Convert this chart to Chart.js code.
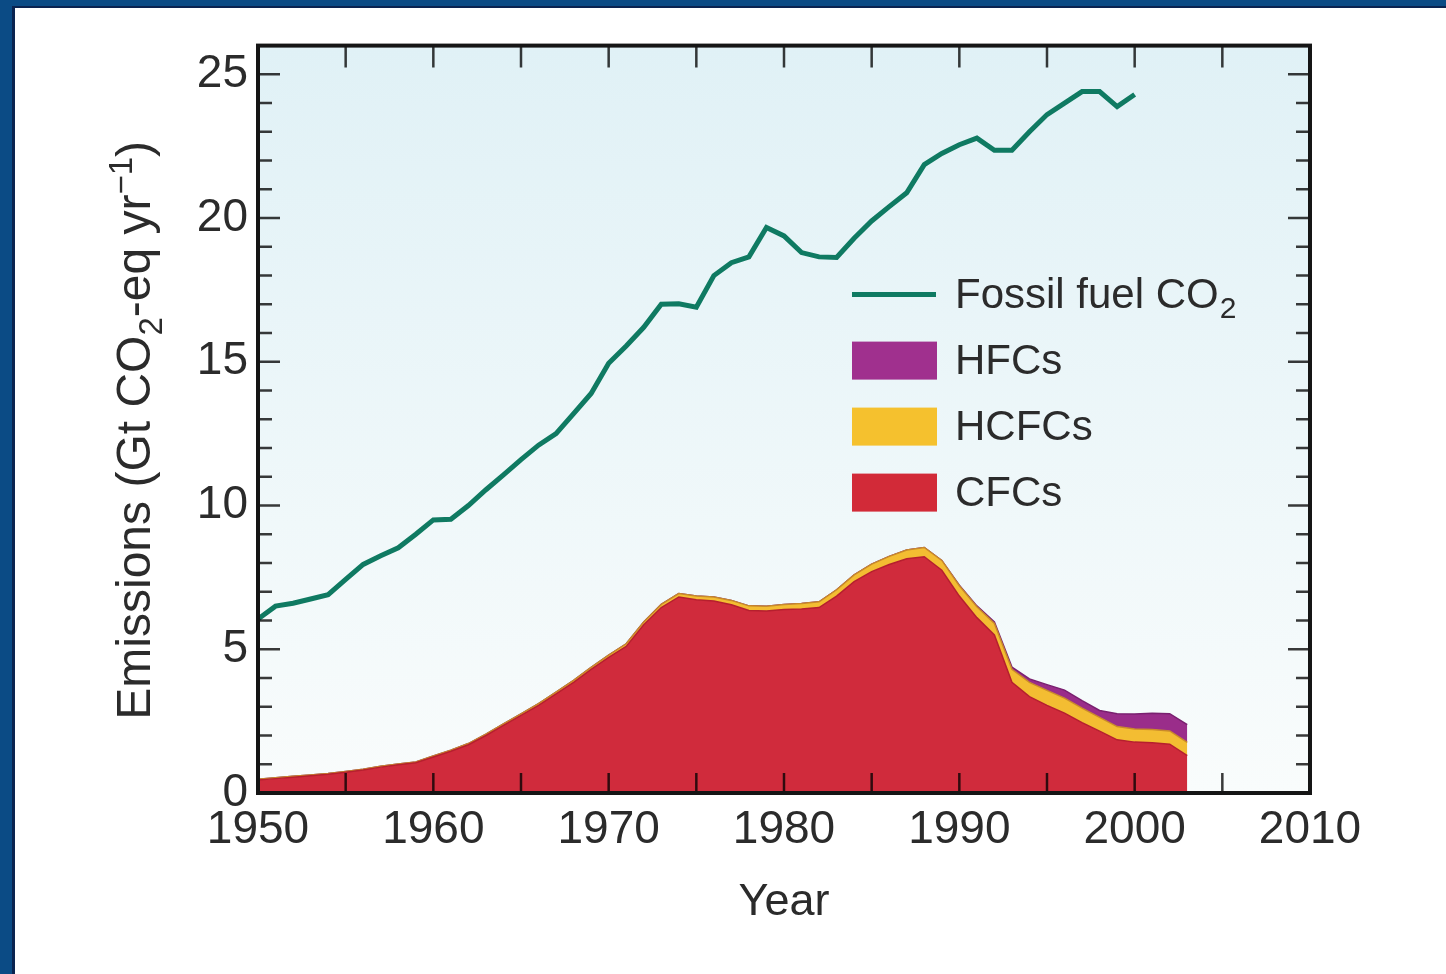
<!DOCTYPE html>
<html>
<head>
<meta charset="utf-8">
<title>Fossil fuel CO2 and halocarbon emissions</title>
<script src="https://cdn.jsdelivr.net/npm/chart.js@4.4.1/dist/chart.umd.min.js"></script>
<style>
  html, body { margin: 0; padding: 0; background: #ffffff; }
  #frame {
    position: absolute; left: 0; top: 0;
    width: 1434px; height: 968px;
    border-left: 12px solid #0b4b85;
    border-top: 6px solid #0b4b85;
  }
  #inner {
    width: 1431px; height: 966px;
    border-left: 3px solid #0a2350;
    border-top: 2px solid #0a2350;
    background: #ffffff;
  }
  canvas { display: block; }
</style>
</head>
<body>
<div id="frame"><div id="inner"><canvas id="emissionsChart" width="1431" height="966"></canvas></div></div>
<script>
// values (GtCO2-eq per year)
const years = [
  1950, 1951, 1952, 1953, 1954, 1955, 1956, 1957, 1958, 1959,
  1960, 1961, 1962, 1963, 1964, 1965, 1966, 1967, 1968, 1969,
  1970, 1971, 1972, 1973, 1974, 1975, 1976, 1977, 1978, 1979,
  1980, 1981, 1982, 1983, 1984, 1985, 1986, 1987, 1988, 1989,
  1990, 1991, 1992, 1993, 1994, 1995, 1996, 1997, 1998, 1999,
  2000, 2001, 2002, 2003
];

// 1950 - 2000
const fossilCO2 = [
  6.05, 6.5, 6.6, 6.75, 6.9, 7.43, 7.95, 8.25, 8.53, 9.0,
  9.5, 9.52, 10.0, 10.55, 11.07, 11.6, 12.1, 12.5, 13.2, 13.9,
  14.95, 15.55, 16.2, 17.0, 17.02, 16.9, 18.0, 18.45, 18.65, 19.67,
  19.38, 18.8, 18.65, 18.63, 19.3, 19.9, 20.4, 20.88, 21.86, 22.25,
  22.55, 22.78, 22.36, 22.36, 23.0, 23.6, 24.0, 24.4, 24.4, 23.88,
  24.3
];

// 1950 - 2003, stacked from the bottom: CFCs, HCFCs, HFCs
const cfcs = [
  0.45, 0.5, 0.55, 0.6, 0.65, 0.72, 0.8, 0.9, 0.98, 1.05,
  1.25, 1.45, 1.68, 2.0, 2.35, 2.7, 3.05, 3.45, 3.85, 4.3,
  4.72, 5.1, 5.85, 6.45, 6.82, 6.72, 6.68, 6.55, 6.35, 6.33,
  6.38, 6.4, 6.45, 6.85, 7.35, 7.7, 7.95, 8.15, 8.22, 7.75,
  6.85, 6.1, 5.5, 3.85, 3.35, 3.05, 2.78, 2.45, 2.15, 1.85,
  1.77, 1.75, 1.7, 1.3
];
const hcfcs = [
  0.03, 0.03, 0.03, 0.03, 0.03, 0.03, 0.03, 0.03, 0.03, 0.03,
  0.04, 0.04, 0.04, 0.05, 0.05, 0.05, 0.06, 0.06, 0.07, 0.07,
  0.08, 0.09, 0.1, 0.11, 0.12, 0.13, 0.14, 0.15, 0.16, 0.17,
  0.18, 0.19, 0.2, 0.22, 0.24, 0.26, 0.28, 0.3, 0.32, 0.34,
  0.36, 0.38, 0.4, 0.45, 0.5, 0.52, 0.52, 0.5, 0.48, 0.46,
  0.46, 0.46, 0.46, 0.46
];
const hfcs = [
  0, 0, 0, 0, 0, 0, 0, 0, 0, 0,
  0, 0, 0, 0, 0, 0, 0, 0, 0, 0,
  0, 0, 0, 0, 0, 0, 0, 0, 0, 0,
  0, 0, 0, 0, 0, 0, 0, 0, 0, 0,
  0.02, 0.03, 0.05, 0.08, 0.12, 0.2, 0.28, 0.26, 0.24, 0.45,
  0.52, 0.56, 0.6, 0.62
];

const xTickLabels = [1950, 1960, 1970, 1980, 1990, 2000, 2010];
const yTickLabels = [0, 5, 10, 15, 20, 25];

// y title pieces: normal, subscript, normal, superscript, normal
const yTitleParts = ['Emissions (Gt CO', '2', '-eq yr', '\u22121', ')'];

const FONT = '"Liberation Sans", Arial, Helvetica, sans-serif';
const TEXT = '#2b2b2b';

function toPoints(values) {
  return values.map((v, i) => ({ x: years[i], y: v }));
}

// pale blue wash behind the data
const plotBackground = {
  id: 'plotBackground',
  beforeDraw(chart) {
    const { ctx, chartArea: a } = chart;
    const g = ctx.createLinearGradient(0, a.top, 0, a.bottom);
    g.addColorStop(0, '#e0f1f6');
    g.addColorStop(1, '#f9fcfc');
    ctx.save();
    ctx.fillStyle = g;
    ctx.fillRect(a.left, a.top, a.right - a.left, a.bottom - a.top);
    ctx.restore();
  }
};

// inward tick marks on all four sides plus the box
const axisTicks = {
  id: 'axisTicks',
  afterDatasetsDraw(chart) {
    const { ctx, chartArea: a, scales: { x, y } } = chart;
    ctx.save();
    ctx.globalCompositeOperation = 'multiply';
    ctx.strokeStyle = '#3a3a3a';
    ctx.lineWidth = 2.5;
    ctx.beginPath();
    for (let yr = x.min; yr <= x.max; yr += 5) {
      const px = x.getPixelForValue(yr);
      ctx.moveTo(px, a.bottom);
      ctx.lineTo(px, a.bottom - 20);
      ctx.moveTo(px, a.top);
      ctx.lineTo(px, a.top + 22);
    }
    for (let v = 0; v <= 25; v++) {
      const py = y.getPixelForValue(v);
      const len = v % 5 === 0 ? 22 : 14;
      ctx.moveTo(a.left, py);
      ctx.lineTo(a.left + len, py);
      ctx.moveTo(a.right, py);
      ctx.lineTo(a.right - len, py);
    }
    ctx.stroke();
    ctx.globalCompositeOperation = 'source-over';
    ctx.strokeStyle = '#151515';
    ctx.lineWidth = 4;
    ctx.strokeRect(a.left, a.top, a.right - a.left, a.bottom - a.top);
    ctx.restore();
  }
};

// rotated y title with real sub/superscripts
const yTitle = {
  id: 'yTitle',
  afterDraw(chart) {
    const { ctx, chartArea: a } = chart;
    const styles = [
      { size: 48, dy: 0 },
      { size: 33, dy: 12 },
      { size: 48, dy: 0 },
      { size: 33, dy: -18 },
      { size: 48, dy: 0 }
    ];
    ctx.save();
    let total = 0;
    const widths = yTitleParts.map((t, i) => {
      ctx.font = styles[i].size + 'px ' + FONT;
      const w = ctx.measureText(t).width;
      total += w;
      return w;
    });
    const centerY = (a.top + a.bottom) / 2 + 11;
    ctx.translate(135, centerY + total / 2);
    ctx.rotate(-Math.PI / 2);
    ctx.fillStyle = TEXT;
    ctx.textBaseline = 'alphabetic';
    let u = 0;
    yTitleParts.forEach((t, i) => {
      ctx.font = styles[i].size + 'px ' + FONT;
      ctx.fillText(t, u, styles[i].dy);
      u += widths[i];
    });
    ctx.restore();
  }
};

// legend drawn inside the plot area
const insideLegend = {
  id: 'insideLegend',
  afterDraw(chart) {
    const { ctx, chartArea: a } = chart;
    const x0 = a.left + 594;
    const y0 = a.top + 249;
    const rowH = 66;
    const order = [0, 3, 2, 1];
    ctx.save();
    ctx.textBaseline = 'middle';
    order.forEach((idx, i) => {
      const ds = chart.data.datasets[idx];
      const cy = y0 + i * rowH;
      if (ds.fill === false) {
        ctx.strokeStyle = ds.borderColor;
        ctx.lineWidth = 5;
        ctx.beginPath();
        ctx.moveTo(x0, cy);
        ctx.lineTo(x0 + 84, cy);
        ctx.stroke();
      } else {
        ctx.fillStyle = ds.legendColor;
        ctx.fillRect(x0, cy - 19, 85, 38);
      }
      ctx.fillStyle = TEXT;
      ctx.font = '42px ' + FONT;
      const label = ds.label;
      const tx = x0 + 103;
      if (label.endsWith('\u2082')) {
        const base = label.slice(0, -1);
        ctx.fillText(base, tx, cy + 2);
        const w = ctx.measureText(base).width;
        ctx.font = '30px ' + FONT;
        ctx.fillText('2', tx + w + 1, cy + 15);
      } else {
        ctx.fillText(label, tx, cy + 2);
      }
    });
    ctx.restore();
  }
};

const ctx = document.getElementById('emissionsChart').getContext('2d');
new Chart(ctx, {
  type: 'line',
  data: {
    datasets: [
      {
        label: 'Fossil fuel CO\u2082',
        data: fossilCO2.map((v, i) => ({ x: years[i], y: v })),
        borderColor: '#0f7a62',
        borderWidth: 5,
        pointRadius: 0,
        fill: false,
        tension: 0,
        stack: 'co2'
      },
      {
        label: 'CFCs',
        data: toPoints(cfcs),
        borderColor: '#b61f2e',
        backgroundColor: '#d02b3c',
        legendColor: '#d22a38',
        borderWidth: 1.5,
        pointRadius: 0,
        fill: 'origin',
        tension: 0,
        stack: 'halocarbons'
      },
      {
        label: 'HCFCs',
        data: toPoints(hcfcs),
        borderColor: '#c98a2a',
        backgroundColor: '#f3bd32',
        legendColor: '#f5c12e',
        borderWidth: 1.5,
        pointRadius: 0,
        fill: '-1',
        tension: 0,
        stack: 'halocarbons'
      },
      {
        label: 'HFCs',
        data: toPoints(hfcs),
        borderColor: '#7a2070',
        backgroundColor: '#9a2d8a',
        legendColor: '#a0308e',
        borderWidth: 1.5,
        pointRadius: 0,
        fill: '-1',
        tension: 0,
        stack: 'halocarbons'
      }
    ]
  },
  options: {
    responsive: false,
    animation: false,
    layout: { padding: { left: 0, top: 34, right: 136, bottom: 0 } },
    plugins: {
      legend: { display: false },
      tooltip: { enabled: false }
    },
    scales: {
      x: {
        type: 'linear',
        min: 1950,
        max: 2010,
        afterFit: s => { s.height = 181; },
        afterBuildTicks: s => { s.ticks = xTickLabels.map(v => ({ value: v })); },
        grid: { display: false, drawTicks: false },
        border: { display: false },
        ticks: {
          padding: 10,
          color: TEXT,
          maxRotation: 0,
          autoSkip: false,
          font: { family: FONT, size: 46 },
          callback: v => String(v)
        },
        title: {
          display: true,
          text: 'Year',
          color: TEXT,
          font: { family: FONT, size: 45 },
          padding: 44
        }
      },
      y: {
        type: 'linear',
        min: 0,
        max: 26,
        stacked: true,
        afterFit: s => { s.width = 243; },
        afterBuildTicks: s => { s.ticks = yTickLabels.map(v => ({ value: v })); },
        grid: { display: false, drawTicks: false },
        border: { display: false },
        ticks: {
          padding: 10,
          color: TEXT,
          font: { family: FONT, size: 46 },
          callback: v => String(v)
        },
        title: { display: false }
      }
    }
  },
  plugins: [plotBackground, axisTicks, yTitle, insideLegend]
});
</script>
</body>
</html>
